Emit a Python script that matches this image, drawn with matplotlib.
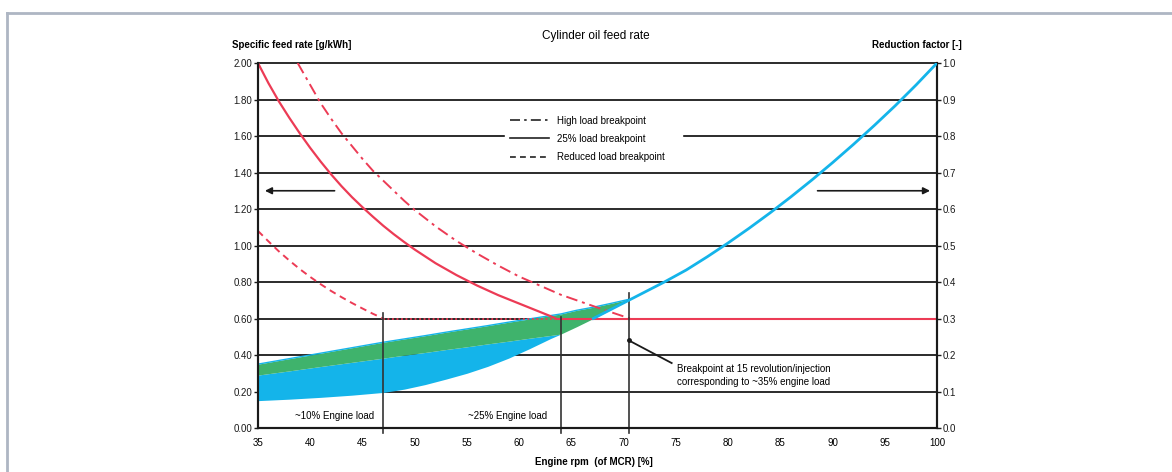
import numpy as np
import matplotlib
matplotlib.use("Agg")
from matplotlib import pyplot as plt
from matplotlib.lines import Line2D

plt.rcParams['font.family'] = ['Liberation Sans', 'DejaVu Sans']

# feed rate curves [g/kWh] vs engine rpm [%]
solid_x = [35, 36, 37, 38, 39, 40, 41, 42, 43, 44, 45, 46, 47, 48, 49, 50, 52, 54, 56,
           58, 60, 61, 62, 63, 63.5]
solid_y = [2.00, 1.89, 1.79, 1.70, 1.615, 1.535, 1.46, 1.39, 1.325, 1.265, 1.21, 1.158,
           1.108, 1.062, 1.019, 0.978, 0.903, 0.838, 0.78, 0.728, 0.682, 0.659, 0.636,
           0.613, 0.60]
dashdot_x = [38.8, 40, 41, 42, 43, 44, 45, 46, 47, 48, 49, 50, 52, 54, 56, 58, 60, 62,
             64, 66, 68, 70.6]
dashdot_y = [2.00, 1.88, 1.78, 1.695, 1.615, 1.545, 1.475, 1.41, 1.355, 1.30, 1.245,
             1.195, 1.105, 1.025, 0.955, 0.89, 0.83, 0.78, 0.73, 0.69, 0.65, 0.60]
dashed_x = [35, 36, 37, 38, 39, 40, 41, 42, 43, 44, 45, 46, 47]
dashed_y = [1.08, 1.023, 0.968, 0.918, 0.871, 0.828, 0.788, 0.751, 0.717, 0.685, 0.655,
            0.626, 0.60]
floor_level = 0.60

# reduction factor [-] (right axis)
red_x = [67.1, 70.5, 73.9, 76, 78, 80, 82, 84, 86, 88, 90, 92, 94, 96, 98, 100]
red_y = [0.30, 0.35, 0.40, 0.433, 0.469, 0.507, 0.547, 0.589, 0.633, 0.679, 0.727,
         0.777, 0.829, 0.883, 0.94, 1.00]

# shaded bands [g/kWh]
band_x = [35, 38, 41, 44, 47, 49, 51, 53, 55, 57, 59, 61, 63, 64, 65.5, 67.1, 68.8, 70.5]
blue_lo = [0.15, 0.158, 0.168, 0.18, 0.195, 0.213, 0.238, 0.268, 0.30, 0.338, 0.383,
           0.435, 0.49, 0.515, 0.555, 0.60, 0.65, 0.70]
green_lo = [0.29, 0.313, 0.337, 0.36, 0.383, 0.399, 0.414, 0.43, 0.445, 0.461, 0.476,
            0.492, 0.507, 0.515, 0.555, 0.60, 0.65, 0.70]
green_hi = [0.35, 0.38, 0.41, 0.44, 0.47, 0.488, 0.506, 0.525, 0.543, 0.561, 0.58, 0.598,
            0.616, 0.625, 0.645, 0.662, 0.683, 0.705]

load_x = [47, 64, 70.5]
load_top = [0.63, 0.61, 0.74]

RED = '#ec3b55'
BLUE = '#14b4ea'
GREEN = '#3fb36c'

fig = plt.figure(figsize=(11.72, 4.72), dpi=100)
ax = fig.add_axes([0.2201, 0.0932, 0.5794, 0.7733])
ax2 = ax.twinx()

ax.set_xlim(35, 100)
ax.set_ylim(0, 2.0)
ax2.set_ylim(0, 1.0)

yt = np.arange(0, 2.01, 0.2)
ax.set_yticks(yt)
ax.set_yticklabels(['%.2f' % v for v in yt])
ax2.set_yticks(yt / 2)
ax2.set_yticklabels(['%.1f' % v for v in yt / 2])
ax.set_xticks(range(35, 101, 5))

for v in yt[1:]:
    ax.axhline(v, color='#1a1a1a', lw=1.3, zorder=1, clip_on=False)

ax.fill_between(band_x, blue_lo, green_lo, color=BLUE, lw=0, zorder=2)
ax.fill_between(band_x, green_lo, green_hi, color=GREEN, lw=0, zorder=2)
ax.plot(band_x, green_hi, color=BLUE, lw=1.0, zorder=2)

ax.plot(solid_x, solid_y, color=RED, lw=1.6, zorder=3)
ax.plot(dashdot_x, dashdot_y, color=RED, lw=1.4, ls=(0, (6, 2.5, 1.5, 2.5)), zorder=3)
ax.plot(dashed_x, dashed_y, color=RED, lw=1.4, ls=(0, (3.5, 2.5)), zorder=3)
ax.plot([dashed_x[-1], solid_x[-1]], [floor_level, floor_level], color=RED, lw=1.3,
        ls=(0, (1, 1.5)), zorder=3)
ax.plot([solid_x[-1], 100], [floor_level, floor_level], color=RED, lw=1.5, zorder=3)
ax2.plot(red_x, red_y, color=BLUE, lw=2.0, zorder=3)

for x, top in zip(load_x, load_top):
    ax.plot([x, x], [-0.03, top], color='#333333', lw=1.2, clip_on=False, zorder=4)

ax.text(42.3, 0.066, '~10% Engine load', fontsize=7, ha='center', va='center')
ax.text(58.9, 0.066, '~25% Engine load', fontsize=7, ha='center', va='center')

ax.plot([70.5, 74.6], [0.48, 0.356], color='#1a1a1a', lw=1.3, zorder=4)
ax.plot([70.5], [0.48], 'o', color='#1a1a1a', ms=2.5, zorder=4)
ax.text(75.1, 0.35, 'Breakpoint at 15 revolution/injection\ncorresponding to ~35% engine load',
        fontsize=7, ha='left', va='top', linespacing=1.35)

ax.annotate('', xy=(35.4, 1.30), xytext=(42.6, 1.30),
            arrowprops=dict(arrowstyle='-|>', color='#1a1a1a', lw=1.2, mutation_scale=10))
ax.annotate('', xy=(99.6, 1.30), xytext=(88.3, 1.30),
            arrowprops=dict(arrowstyle='-|>', color='#1a1a1a', lw=1.2, mutation_scale=10))

handles = [Line2D([], [], color='#222222', lw=1.2, ls=(0, (6, 2.5, 1.5, 2.5))),
           Line2D([], [], color='#222222', lw=1.2),
           Line2D([], [], color='#222222', lw=1.2, ls=(0, (3.5, 2.5)))]
labels = ['High load breakpoint', '25% load breakpoint', 'Reduced load breakpoint']
leg = ax.legend(handles, labels, loc='upper left', mode='expand',
                bbox_to_anchor=(58.2, 1.436, 17.9, 0.329),
                bbox_transform=ax.transData, fontsize=7, handlelength=4.0,
                handletextpad=0.8, labelspacing=0.85, borderpad=0.5,
                frameon=True, fancybox=False, framealpha=1.0, edgecolor='white')
leg.set_zorder(6)

for a in (ax, ax2):
    for s in a.spines.values():
        s.set_color('#1a1a1a')
        s.set_linewidth(1.5)
    a.spines['top'].set_visible(False)
ax.tick_params(axis='y', labelsize=7, length=3, width=1, pad=1, colors='#1a1a1a')
ax2.tick_params(axis='y', labelsize=7, length=3, width=1, pad=1, colors='#1a1a1a')
ax.tick_params(axis='x', labelsize=7, length=0, pad=7)

fig.text(0.508, 0.924, 'Cylinder oil feed rate', fontsize=8.5, ha='center', va='center')
fig.text(0.198, 0.905, 'Specific feed rate [g/kWh]', fontsize=7, ha='left', va='center',
         fontweight='bold')
fig.text(0.821, 0.905, 'Reduction factor [-]', fontsize=7, ha='right', va='center',
         fontweight='bold')
fig.text(0.507, 0.021, 'Engine rpm  (of MCR) [%]', fontsize=7, ha='center', va='center',
         fontweight='bold')

# light grey frame
fig.add_artist(Line2D([0.006, 1.0], [0.972, 0.972], color='#aeb6c3', lw=2.0))
fig.add_artist(Line2D([0.006, 0.006], [0.0, 0.972], color='#aeb6c3', lw=2.0))

fig.savefig('out.png', dpi=100)
